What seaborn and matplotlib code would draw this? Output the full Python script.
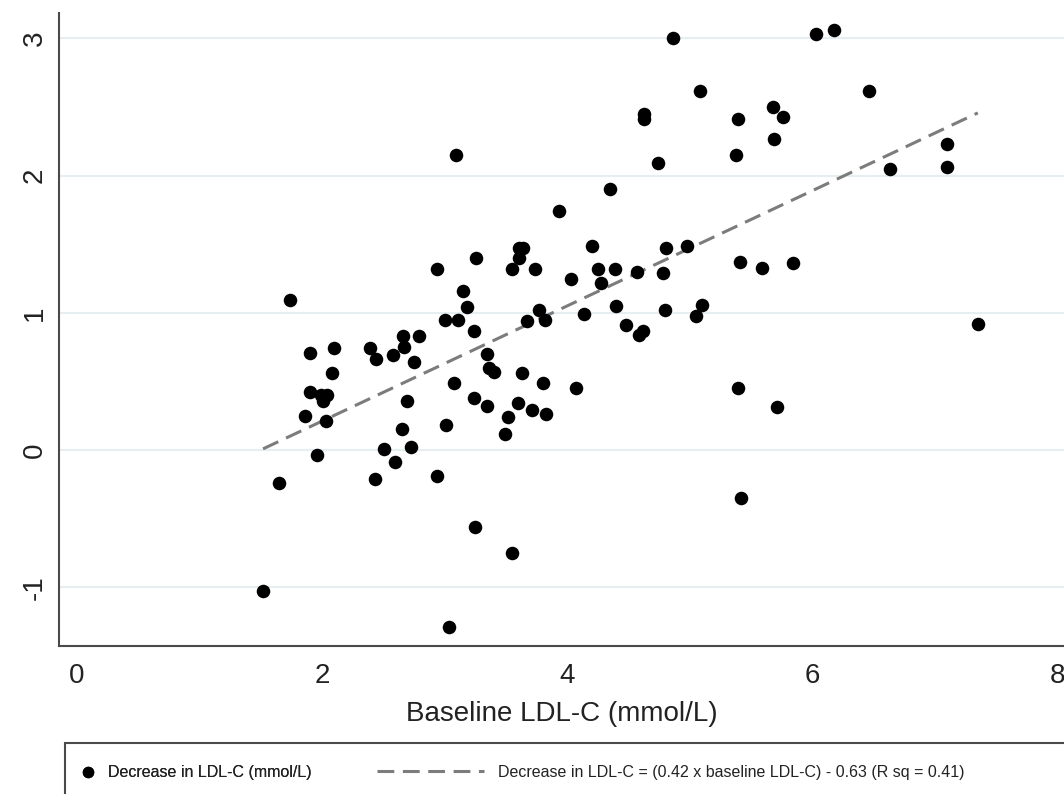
# =========================================================
# BASELINE LDL-C VS DECREASE IN LDL-C (SCATTER + FIT LINE)
# =========================================================
import matplotlib.pyplot as plt
import matplotlib.patches as patches
import pandas as pd
import seaborn as sns

# =========================
# DATA
# =========================
baseline_ldl = [
    1.52, 1.65, 1.74, 1.86, 1.90, 1.90, 1.96, 1.99, 2.04, 2.01,
    2.03, 2.08, 2.10, 2.39, 2.44, 2.43, 2.51, 2.58, 2.60, 2.66,
    2.67, 2.65, 2.69, 2.73, 2.75, 2.79, 2.94, 2.94, 3.01, 3.00,
    3.04, 3.08, 3.11, 3.09, 3.15, 3.18, 3.24, 3.24, 3.25, 3.26,
    3.35, 3.35, 3.36, 3.40, 3.49, 3.52, 3.55, 3.55, 3.61, 3.64,
    3.61, 3.60, 3.63, 3.67, 3.71, 3.74, 3.77, 3.80, 3.82, 3.83,
    3.93, 4.03, 4.07, 4.14, 4.20, 4.25, 4.28, 4.35, 4.40, 4.39,
    4.48, 4.57, 4.59, 4.62, 4.63, 4.63, 4.74, 4.78, 4.80, 4.81,
    4.86, 4.98, 5.05, 5.10, 5.08, 5.39, 5.38, 5.39, 5.41, 5.42,
    5.59, 5.68, 5.69, 5.71, 5.76, 5.84, 6.03, 6.18, 6.46, 6.63,
    7.10, 7.10, 7.35,
]

ldl_decrease = [
    -1.03, -0.24, 1.09, 0.25, 0.71, 0.42, -0.04, 0.40, 0.40, 0.36,
    0.21, 0.56, 0.74, 0.74, 0.66, -0.21, 0.01, 0.69, -0.09, 0.83,
    0.75, 0.15, 0.36, 0.02, 0.64, 0.83, 1.32, -0.19, 0.18, 0.95,
    -1.29, 0.49, 0.95, 2.15, 1.16, 1.04, 0.87, 0.38, -0.56, 1.40,
    0.70, 0.32, 0.60, 0.57, 0.12, 0.24, -0.75, 1.32, 1.47, 1.47,
    1.40, 0.34, 0.56, 0.94, 0.29, 1.32, 1.02, 0.49, 0.95, 0.26,
    1.74, 1.25, 0.45, 0.99, 1.49, 1.32, 1.22, 1.90, 1.05, 1.32,
    0.91, 1.30, 0.84, 0.87, 2.45, 2.41, 2.09, 1.29, 1.02, 1.47,
    3.00, 1.49, 0.98, 1.06, 2.62, 0.45, 2.15, 2.41, 1.37, -0.35,
    1.33, 2.50, 2.27, 0.31, 2.43, 1.36, 3.03, 3.06, 2.62, 2.05,
    2.23, 2.06, 0.92,
]

# Regression reported in the legend
SLOPE = 0.42
INTERCEPT = -0.63

x_ticks = [0, 2, 4, 6, 8]
y_ticks = [-1, 0, 1, 2, 3]

point_label = "Decrease in LDL-C (mmol/L)"
fit_label = "Decrease in LDL-C = (0.42 x baseline LDL-C) - 0.63 (R sq = 0.41)"
x_label = "Baseline LDL-C (mmol/L)"

# =========================
# GLOBAL SETTINGS
# =========================
sns.set_theme(style="white")
plt.rcParams["font.family"] = ["Liberation Sans", "DejaVu Sans"]
plt.rcParams["axes.unicode_minus"] = False

W, H = 1064, 794
AXIS_COLOR = "#4a4a4a"
GRID_COLOR = "#e6eef2"
TEXT_COLOR = "#222222"


def main():
    df = pd.DataFrame({"baseline": baseline_ldl, "decrease": ldl_decrease})

    x_min, x_max = df["baseline"].min(), df["baseline"].max()
    fit = pd.DataFrame({"baseline": [x_min, x_max]})
    fit["decrease"] = SLOPE * fit["baseline"] + INTERCEPT

    fig = plt.figure(figsize=(W / 100, H / 100), dpi=100)
    ax = fig.add_axes([58.7 / W, 1 - 646 / H, (W - 58.7) / W, (646 - 13.3) / H])

    # Scatter points
    sns.scatterplot(
        data=df, x="baseline", y="decrease", ax=ax,
        color="black", s=95, linewidth=0, zorder=3
    )

    # Fitted line
    sns.lineplot(
        data=fit, x="baseline", y="decrease", ax=ax,
        color="#7c7c7c", linewidth=2.2, zorder=2
    )
    fit_line = ax.lines[0]
    fit_line.set_dashes((5.5, 2.8))

    # Axes
    ax.set_xlim(-0.147, 8.053)
    ax.set_ylim(-1.4286, 3.183)
    ax.set_xticks(x_ticks)
    ax.set_yticks(y_ticks)
    ax.set_xlabel(x_label, fontsize=20, labelpad=9, color=TEXT_COLOR)
    ax.set_ylabel("")

    ax.yaxis.grid(True, color=GRID_COLOR, linewidth=1.5)
    ax.xaxis.grid(False)
    ax.set_axisbelow(True)

    for side in ["top", "right"]:
        ax.spines[side].set_visible(False)
    for side in ["left", "bottom"]:
        ax.spines[side].set_color(AXIS_COLOR)
        ax.spines[side].set_linewidth(1.5)

    ax.tick_params(axis="x", direction="out", length=7, width=1.4,
                   color=AXIS_COLOR, labelsize=20, pad=5, labelcolor=TEXT_COLOR)
    ax.tick_params(axis="y", direction="out", length=8, width=1.4,
                   color=AXIS_COLOR, labelsize=20, pad=0, labelcolor=TEXT_COLOR)
    for lbl in ax.get_yticklabels():
        lbl.set_rotation(90)
        lbl.set_va("center")

    # =========================
    # LEGEND (box runs off the figure edge)
    # =========================
    frame = patches.Rectangle(
        (65 / W, -0.1), 1.2, 51 / H + 0.1,
        transform=fig.transFigure, fill=False,
        edgecolor=AXIS_COLOR, linewidth=1.5
    )
    fig.add_artist(frame)

    leg_y = 1 - 772 / H
    leg1 = fig.legend(
        handles=[ax.collections[0]], labels=[point_label],
        loc="center left", bbox_to_anchor=(80 / W, leg_y),
        frameon=False, handlelength=1.0, handletextpad=0.75,
        borderpad=0, borderaxespad=0, fontsize=11.5,
        scatterpoints=1, markerscale=0.85, labelcolor=TEXT_COLOR
    )
    fig.add_artist(leg1)
    fig.legend(
        handles=[fit_line], labels=[fit_label],
        loc="center left", bbox_to_anchor=(377 / W, leg_y),
        frameon=False, handlelength=6.7, handletextpad=0.875,
        borderpad=0, borderaxespad=0, fontsize=11.5, labelcolor=TEXT_COLOR
    )

    fig.savefig("out.png", dpi=100)
    plt.close(fig)


if __name__ == "__main__":
    main()
